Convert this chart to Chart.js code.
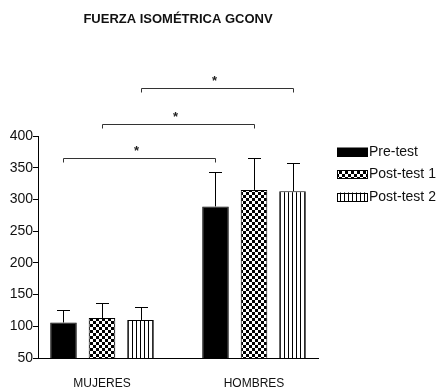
<!DOCTYPE html>
<html>
<head>
<meta charset="utf-8">
<script src="https://cdn.jsdelivr.net/npm/chart.js@4.4.0/dist/chart.umd.min.js"></script>
<style>
  html, body { margin: 0; padding: 0; background: #fff; }
  #wrap { width: 441px; height: 389px; }
</style>
</head>
<body>
<div id="wrap"><canvas id="fuerzaChart"></canvas></div>
<script>
const groups = ['MUJERES', 'HOMBRES'];
const seriesNames = ['Pre-test', 'Post-test 1', 'Post-test 2'];
const preTest = [106, 289];
const postTest1 = [113, 315];
const postTest2 = [110, 313];
const preTestErr = [20, 54];
const postTest1Err = [23, 51];
const postTest2Err = [20, 44];
const yTicks = [50, 100, 150, 200, 250, 300, 350, 400];
// significance brackets: which series is compared MUJERES vs HOMBRES, and at what height
const sigSeries = [0, 1, 2];
const sigLevels = [365, 419, 476];

function checkerPattern() {
    const c = document.createElement('canvas');
    c.width = 6; c.height = 6;
    const g = c.getContext('2d');
    g.fillStyle = '#fff';
    g.fillRect(0, 0, 6, 6);
    g.fillStyle = '#000';
    g.fillRect(0, 0, 3, 3);
    g.fillRect(3, 3, 3, 3);
    return g.createPattern(c, 'repeat');
}

function stripePattern() {
    const c = document.createElement('canvas');
    c.width = 4; c.height = 4;
    const g = c.getContext('2d');
    g.fillStyle = '#fff';
    g.fillRect(0, 0, 4, 4);
    g.fillStyle = '#000';
    g.fillRect(0, 0, 1, 4);
    return g.createPattern(c, 'repeat');
}

const fills = ['#000', checkerPattern(), stripePattern()];
const values = [preTest, postTest1, postTest2];
const errs = [preTestErr, postTest1Err, postTest2Err];

const errorBars = {
    id: 'errorBars',
    afterDatasetsDraw(chart) {
        const ctx = chart.ctx;
        const y = chart.scales.y;
        ctx.save();
        ctx.strokeStyle = '#000';
        ctx.lineWidth = 1;
        chart.data.datasets.forEach((ds, di) => {
            chart.getDatasetMeta(di).data.forEach((bar, i) => {
                const top = Math.round(y.getPixelForValue(ds.data[i].y + ds.errors[i])) + 0.5;
                const x = Math.round(bar.x) + 0.5;
                ctx.beginPath();
                ctx.moveTo(x, bar.y);
                ctx.lineTo(x, top);
                ctx.moveTo(x - 6.5, top);
                ctx.lineTo(x + 6.5, top);
                ctx.stroke();
            });
        });
        ctx.restore();
    }
};

const brackets = {
    id: 'brackets',
    afterDatasetsDraw(chart) {
        const ctx = chart.ctx;
        const y = chart.scales.y;
        ctx.save();
        ctx.strokeStyle = '#333';
        ctx.lineWidth = 1;
        ctx.fillStyle = '#222';
        ctx.font = 'bold 13px "Liberation Sans", Arial, sans-serif';
        ctx.textAlign = 'center';
        ctx.textBaseline = 'middle';
        sigSeries.forEach((s, k) => {
            const bars = chart.getDatasetMeta(s).data;
            const x1 = Math.round(bars[0].x) + 0.5;
            const x2 = Math.round(bars[1].x) + 0.5;
            const yy = Math.round(y.getPixelForValue(sigLevels[k])) + 0.5;
            ctx.beginPath();
            ctx.moveTo(x1, yy + 4);
            ctx.lineTo(x1, yy);
            ctx.lineTo(x2, yy);
            ctx.lineTo(x2, yy + 4);
            ctx.stroke();
            ctx.fillText('*', (x1 + x2) / 2 - 3, yy - 7);
        });
        ctx.restore();
    }
};

const yAxisLine = {
    id: 'yAxisLine',
    afterDraw(chart) {
        const ctx = chart.ctx;
        const y = chart.scales.y;
        const x = Math.round(chart.chartArea.left) + 0.5;
        ctx.save();
        ctx.strokeStyle = '#000';
        ctx.lineWidth = 1;
        ctx.beginPath();
        ctx.moveTo(x, Math.round(y.getPixelForValue(yTicks[0])) + 0.5);
        ctx.lineTo(x, Math.round(y.getPixelForValue(yTicks[yTicks.length - 1])));
        ctx.stroke();
        ctx.restore();
    }
};

const sideLegend = {
    id: 'sideLegend',
    afterDraw(chart) {
        const ctx = chart.ctx;
        const left = chart.chartArea.right + 19;
        ctx.save();
        ctx.font = '14px "Liberation Sans", Arial, sans-serif';
        ctx.textBaseline = 'middle';
        ctx.textAlign = 'left';
        chart.data.datasets.forEach((ds, i) => {
            const cy = 152 + i * 22.5;
            ctx.fillStyle = ds.backgroundColor;
            ctx.fillRect(left, cy - 4.5, 31, 9);
            ctx.strokeStyle = '#000';
            ctx.lineWidth = 1;
            ctx.strokeRect(left + 0.5, Math.round(cy - 4.5) + 0.5, 30, 8);
            ctx.fillStyle = '#111';
            ctx.fillText(ds.label, left + 32, cy);
        });
        ctx.restore();
    }
};

const ctx = document.getElementById('fuerzaChart').getContext('2d');

const chartData = {
    datasets: seriesNames.map((name, s) => ({
        label: name,
        data: values[s].map((v, i) => ({ x: i, y: v })),
        errors: errs[s],
        backgroundColor: fills[s],
        borderColor: '#000',
        borderWidth: 1,
        categoryPercentage: 0.76,
        barPercentage: 0.69
    }))
};

const chartOptions = {
    responsive: true,
    maintainAspectRatio: false,
    animation: false,
    layout: {
        padding: { left: 0, right: 123, top: 0, bottom: 0 }
    },
    plugins: {
        legend: { display: false },
        tooltip: { enabled: false },
        title: {
            display: true,
            fullSize: false,
            text: 'FUERZA ISOMÉTRICA GCONV',
            color: '#111',
            font: {
                family: '"Liberation Sans", Arial, sans-serif',
                size: 13,
                weight: 'bold'
            },
            padding: { top: 12, bottom: 45 }
        }
    },
    scales: {
        x: {
            type: 'linear',
            min: -0.421,
            max: 1.421,
            offset: false,
            grid: { display: false, drawTicks: false },
            border: { display: true, color: '#000', width: 1 },
            afterBuildTicks: function(scale) {
                scale.ticks = groups.map((g, i) => ({ value: i }));
            },
            afterFit: function(scale) {
                scale.height = 31;
            },
            ticks: {
                color: '#111',
                padding: 18,
                maxRotation: 0,
                font: { family: '"Liberation Sans", Arial, sans-serif', size: 12 },
                callback: function(value) {
                    return groups[value];
                }
            }
        },
        y: {
            min: 50,
            max: 500,
            grid: {
                display: true,
                drawOnChartArea: false,
                drawTicks: true,
                tickLength: 5,
                color: '#000'
            },
            border: { display: false },
            afterBuildTicks: function(scale) {
                scale.ticks = yTicks.map(v => ({ value: v }));
            },
            afterFit: function(scale) {
                scale.width = 38;
            },
            ticks: {
                color: '#111',
                padding: 0,
                font: { family: '"Liberation Sans", Arial, sans-serif', size: 14 }
            }
        }
    }
};

new Chart(ctx, {
    type: 'bar',
    data: chartData,
    options: chartOptions,
    plugins: [errorBars, brackets, yAxisLine, sideLegend]
});
</script>
</body>
</html>
